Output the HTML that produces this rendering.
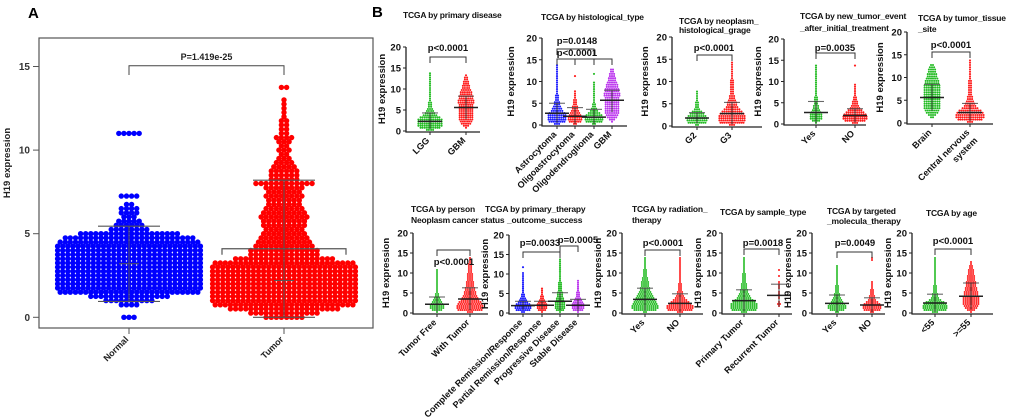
<!DOCTYPE html>
<html><head><meta charset="utf-8"><style>
html,body{margin:0;padding:0;background:#fff;}
svg{display:block;font-family:"Liberation Sans",Arial,sans-serif;}
</style></head><body>
<svg id="fig" width="1020" height="417" viewBox="0 0 1020 417"></svg>
<script>
// ---------- Panel A data (bin width 0.25 units, counts per bin starting at 0) ----------
const aCats = ['Normal','Tumor'];
const aNormalCounts = [3,0,0,4,10,16,28,29,29,29,29,29,29,29,29,29,29,29,28,26,20,8,6,5,3,4,4,2,0,4,0,0,0,0,0,0,0,0,0,0,0,0,0,0,5];
const aTumorCounts = [8,14,22,28,29,29,29,29,29,29,29,29,29,28,20,14,14,12,11,10,9,8,9,9,10,9,8,7,7,8,7,8,12,6,6,6,5,4,3,2,3,2,3,4,2,2,2,2,1,1,1,1,1,0,0,2];
const aMeans = [3.2, 2.2];
const aUpper = [5.45, 8.2];
const aLower = [0.95, 0.0];
const aSD = [null, 4.1];
const aPText = 'P=1.419e-25';

// ---------- Panel B data (bin width 0.5 units, counts per bin starting at 0) ----------
const b1Cats = ['LGG','GBM'];
const b1Counts = [[4,10,12,12,12,12,10,7,5,4,3,2,2,2,1,1,1,1,1,1,1,1,1,1,1,1,1,1],[0,1,3,5,6,7,7,7,7,7,7,7,7,8,8,7,7,6,6,5,4,4,3,3,2,2,1]];
const b1Means = [2.3,5.6]; const b1Upper = [4.3,8.3]; const b1Lower = [0.5,2.8];

const b2Cats = ['Astrocytoma','Oligoastrocytoma','Oligodendroglioma','GBM'];
const b2Counts = [[3,8,9,9,9,8,6,5,4,3,3,2,2,2,1,1,1,1,1,1,1,1,1,1,1,1,1,1],[2,6,7,7,6,5,4,3,3,2,2,2,1,1,1,1,0,0,0,0,0,0,1],[2,8,9,9,8,6,4,3,2,2,1,1,1,1,1,1,1,1,1,1,0,0,0,1],[0,1,3,5,6,7,7,7,7,7,7,7,7,8,8,7,7,6,6,5,4,4,3,3,2,2]];
const b2Means = [2.7,2.0,1.8,5.7]; const b2Upper = [5.0,4.0,3.6,8.0]; const b2Lower = [0.5,0.3,0.3,3.0];

const b3Cats = ['G2','G3'];
const b3Counts = [[2,9,10,10,9,7,5,3,2,2,2,1,1,1,1,1],[3,12,13,13,13,12,10,8,6,5,5,4,3,3,2,2,2,2,2,2,2,1,1,1,1,1,1,1,1]];
const b3Means = [1.8,2.8]; const b3Upper = [3.0,5.3]; const b3Lower = [0.6,0.4];

const b4Cats = ['Yes','NO'];
const b4Counts = [[1,4,6,6,6,5,4,3,3,2,2,2,2,1,1,1,1,1,1,1,1,1,1,1,1,1,1,1],[3,10,12,12,11,9,7,5,4,3,3,2,2,1,1,1,1,1,1,0,0,0,0,0,0,0,0,1]];
const b4Means = [2.7,2.0]; const b4Upper = [5.3,3.6]; const b4Lower = [0.2,0.4];

const b5Cats = ['Brain','Central nervous|system'];
const b5Counts = [[0,0,2,4,6,7,8,8,8,8,8,8,8,8,8,8,8,7,7,6,5,5,4,4,3,2],[3,12,14,14,13,11,8,6,5,4,3,3,2,2,2,2,2,2,2,1,1,1,1,1,1,1,1,1]];
const b5Means = [5.6,2.3]; const b5Upper = [8.5,4.3]; const b5Lower = [2.7,0.4];

const b6Cats = ['Tumor Free','With Tumor'];
const b6Counts = [[1,5,7,7,6,5,4,3,2,2,1,1,1,1,1,1,1,1,1,1,1,1],[3,12,13,13,12,11,9,8,7,6,6,5,5,4,4,4,3,3,3,3,2,2,2,2,2,1,1,1]];
const b6Means = [2.2,3.5]; const b6Upper = [4.0,6.3]; const b6Lower = [0.4,0.7];

const b7Cats = ['Complete Remission/Response','Partial Remission/Response','Progressive Disease','Stable Disease'];
const b7Counts = [[2,7,8,8,7,5,4,3,2,2,1,1,1,1,1,1,1,1,1,1,1,0,0,1],[1,4,5,5,5,4,3,2,2,1,1,1,1],[1,4,5,5,5,5,4,4,3,3,3,2,2,2,2,2,1,1,1,1,1,1,1,1,1,1,1,1],[1,5,6,6,6,5,4,3,2,2,2,1,1,1,1,1,1]];
const b7Means = [1.9,2.0,3.0,2.0]; const b7Upper = [3.0,3.0,5.2,3.5]; const b7Lower = [0.8,1.0,0.8,0.5];

const b8Cats = ['Yes','NO'];
const b8Counts = [[2,11,13,13,12,11,10,9,8,7,6,5,5,4,4,4,3,3,2,2,2,2,1,1,1,1,1,1],[3,12,13,13,11,9,7,5,4,3,3,2,2,2,2,1,1,1,1,1,1,1,1,1,1,1,1,1]];
const b8Means = [3.4,2.4]; const b8Upper = [6.2,4.8]; const b8Lower = [0.6,0.2];

const b9Cats = ['Primary Tumor','Recurrent Tumor'];
const b9Counts = [[3,12,13,13,13,11,9,7,6,5,4,4,3,3,3,2,2,2,2,2,1,1,1,1,1,1,1,1],[0,0,0,1,2,1,0,1,1,1,1,0,1,1,1,1,0,0,1,0,0,1]];
const b9Means = [3.1,4.4]; const b9Upper = [5.8,7.2]; const b9Lower = [0.4,1.6];

const b10Cats = ['Yes','NO'];
const b10Counts = [[2,7,9,9,8,6,5,4,3,3,2,2,2,2,1,1,1,1,1,1,1,1,1,1],[2,8,9,9,8,6,4,3,3,2,2,2,1,1,1,1,0,0,0,0,0,0,0,0,0,0,1,1]];
const b10Means = [2.4,2.0]; const b10Upper = [4.5,3.8]; const b10Lower = [0.3,0.2];

const b11Cats = ['<55','>=55'];
const b11Counts = [[3,11,12,12,11,9,6,4,3,3,2,2,2,2,1,1,1,1,1,1,1,1,1,1,1,1,1,1],[1,4,6,7,8,8,8,8,7,7,7,6,6,5,5,5,4,4,4,3,3,3,2,2,1,1]];
const b11Means = [2.5,4.2]; const b11Upper = [4.7,7.5]; const b11Lower = [0.3,0.9];

const yTicksA = [0,5,10,15];
const yTicksB = [0,5,10,15,20];

// ---------- drawing helpers ----------
const NS='http://www.w3.org/2000/svg';
const svg=document.getElementById('fig');
function mk(tag, attrs, parent){
  const e=document.createElementNS(NS,tag);
  for(const k in attrs) e.setAttribute(k,attrs[k]);
  (parent||svg).appendChild(e);
  return e;
}
function txt(s, attrs, parent){const t=mk('text',attrs,parent);t.textContent=s;return t;}

// ---------- Panel A ----------
(function(){
  const g=mk('g',{});
  
  
  const L=39,T=38,R=373,B=328;
  const y=v=>317.3-v*16.72;
  const cx=[129,284];
  const lbl=txt('A',{x:28,y:18,'font-size':15,'font-weight':'bold',fill:'#000'},g);
  
  
  const box=mk('rect',{x:L,y:T,width:R-L,height:B-T,fill:'none',stroke:'#555','stroke-width':1.2},g);
  
  
  yTicksA.forEach(v=>{
    mk('line',{x1:33,x2:L,y1:y(v),y2:y(v),stroke:'#555','stroke-width':1},g);
    const t=txt(String(v),{x:30,y:y(v)+3.5,'text-anchor':'end','font-size':10,'font-weight':'bold',fill:'#333'},g);
    
    
  });
  const yt=txt('H19 expression',{x:0,y:0,'font-size':9.5,'font-weight':'bold',fill:'#222','text-anchor':'middle',transform:'translate(10,163) rotate(-90)'},g);
  
  
  const groups=[aNormalCounts,aTumorCounts], cols=['#0000ff','#ff0000'];
  groups.forEach((counts,gi)=>{
    const dg=mk('g',{fill:cols[gi]},g);
    
    
    counts.forEach((n,bi)=>{
      const yy=y(bi*0.25);
      for(let i=0;i<n;i++){
        const x=cx[gi]+(i-(n-1)/2)*5.1;
        mk('circle',{cx:x.toFixed(1),cy:yy.toFixed(1),r:2.7},dg);
      }
    });
    mk('line',{x1:cx[gi],x2:cx[gi],y1:y(aLower[gi]),y2:y(aUpper[gi]),stroke:'#555','stroke-width':1},g);
    mk('line',{x1:cx[gi]-31,x2:cx[gi]+31,y1:y(aUpper[gi]),y2:y(aUpper[gi]),stroke:'#555','stroke-width':1.2},g);
    mk('line',{x1:cx[gi]-31,x2:cx[gi]+31,y1:y(aLower[gi]),y2:y(aLower[gi]),stroke:'#555','stroke-width':1.2},g);
    mk('line',{x1:cx[gi]-10,x2:cx[gi]+10,y1:y(aMeans[gi]),y2:y(aMeans[gi]),stroke:'#555','stroke-width':1},g);
    if(aSD[gi]!==null){
      mk('path',{d:`M${cx[gi]-62},${y(aSD[gi])+6}V${y(aSD[gi])}H${cx[gi]+62}V${y(aSD[gi])+6}`,fill:'none',stroke:'#555','stroke-width':1.2},g);
    }
    mk('line',{x1:cx[gi],x2:cx[gi],y1:B,y2:B+6,stroke:'#555','stroke-width':1},g);
    const xl=txt(aCats[gi],{x:cx[gi],y:B+12,'text-anchor':'end','font-size':9,'font-weight':'bold',fill:'#222',transform:`rotate(-45 ${cx[gi]} ${B+12})`},g);
    
    
  });
  mk('path',{d:`M${cx[0]},75V65.7H${cx[1]}V75`,fill:'none',stroke:'#444','stroke-width':1},g);
  const pt=txt(aPText,{x:(cx[0]+cx[1])/2,y:60,'text-anchor':'middle','font-size':9,'font-weight':'bold',fill:'#222'},g);
  
  
})();

// ---------- Panel B ----------
const bl=txt('B',{x:372,y:17,'font-size':15,'font-weight':'bold',fill:'#000'});



const G='#22bb22',Rd='#ff1a1a',Bl='#1a1aff',Pu='#bb33ee';
const panels=[
 {name:'primary-disease',cats:b1Cats,counts:b1Counts,means:b1Means,up:b1Upper,lo:b1Lower,cols:[G,Rd],ax:406,y20:47,y0:131,xr:480,cx:[430,466],ytx:385,title:['TCGA by primary disease'],tx:403,ty:[18],
  br:[{a:0,b:1,y:57,t:'p<0.0001',tx:448,ty:51}]},
 {name:'histological-type',cats:b2Cats,counts:b2Counts,means:b2Means,up:b2Upper,lo:b2Lower,cols:[Bl,Rd,G,Pu],ax:542,y20:38,y0:125,xr:627,cx:[557,575,594,612],ytx:514,title:['TCGA by histological_type'],tx:541,ty:[20],
  br:[{a:0,b:2,y:49,t:'p=0.0148',tx:577,ty:44},{a:0,b:3,y:59,t:'p<0.0001',tx:577,ty:56,mid:[1,2]}]},
 {name:'histological-grade',cats:b3Cats,counts:b3Counts,means:b3Means,up:b3Upper,lo:b3Lower,cols:[G,Rd],ax:672,y20:37,y0:126,xr:762,cx:[697,732],ytx:648,title:['TCGA by neoplasm_','histological_grage'],tx:679,ty:[24,33],
  br:[{a:0,b:1,y:55,t:'p<0.0001',tx:714,ty:51}]},
 {name:'new-tumor-event',cats:b4Cats,counts:b4Counts,means:b4Means,up:b4Upper,lo:b4Lower,cols:[G,Rd],ax:784,y20:39,y0:124,xr:866,cx:[816,855],ytx:761,title:['TCGA by new_tumor_event','_after_initial_treatment'],tx:800,ty:[19,31],
  br:[{a:0,b:1,y:53,t:'p=0.0035',tx:835,ty:51}]},
 {name:'tumor-tissue-site',cats:b5Cats,counts:b5Counts,means:b5Means,up:b5Upper,lo:b5Lower,cols:[G,Rd],ax:907,y20:32,y0:123,xr:993,cx:[932,970],ytx:883,title:['TCGA by tumor_tissue','_site'],tx:918,ty:[21,32],
  br:[{a:0,b:1,y:52,t:'p<0.0001',tx:951,ty:48}]},
 {name:'person-neoplasm-status',cats:b6Cats,counts:b6Counts,means:b6Means,up:b6Upper,lo:b6Lower,cols:[G,Rd],ax:413,y20:233,y0:313,xr:488,cx:[437,470],ytx:389,title:['TCGA by person','Neoplasm cancer status'],tx:411,ty:[212,223],
  br:[{a:0,b:1,y:250,t:'p<0.0001',tx:454,ty:265}]},
 {name:'primary-therapy-outcome',cats:b7Cats,counts:b7Counts,means:b7Means,up:b7Upper,lo:b7Lower,cols:[Bl,Rd,G,Pu],ax:509,y20:235,y0:313,xr:590,cx:[523,542,560,578],ytx:488,title:['TCGA by primary_therapy','_outcome_success'],tx:[485,507],ty:[212,223],
  br:[{a:0,b:2,y:252,t:'p=0.0033',tx:540,ty:246},{a:2,b:3,y:246,t:'p=0.0005',tx:578,ty:243}]},
 {name:'radiation-therapy',cats:b8Cats,counts:b8Counts,means:b8Means,up:b8Upper,lo:b8Lower,cols:[G,Rd],ax:622,y20:233,y0:313,xr:703,cx:[645,680],ytx:601,title:['TCGA by radiation_','therapy'],tx:632,ty:[212,223],
  br:[{a:0,b:1,y:250,t:'p<0.0001',tx:663,ty:246}]},
 {name:'sample-type',cats:b9Cats,counts:b9Counts,means:b9Means,up:b9Upper,lo:b9Lower,cols:[G,Rd],ax:722,y20:233,y0:313,xr:792,cx:[744,779],ytx:701,title:['TCGA by sample_type'],tx:720,ty:[215],
  br:[{a:0,b:1,y:249,t:'p=0.0018',tx:763,ty:246}]},
 {name:'targeted-molecular-therapy',cats:b10Cats,counts:b10Counts,means:b10Means,up:b10Upper,lo:b10Lower,cols:[G,Rd],ax:812,y20:233,y0:313,xr:885,cx:[837,872],ytx:791,title:['TCGA by targeted','_molecula_therapy'],tx:827,ty:[214,224],
  br:[{a:0,b:1,y:252,t:'p=0.0049',tx:855,ty:246}]},
 {name:'age',cats:b11Cats,counts:b11Counts,means:b11Means,up:b11Upper,lo:b11Lower,cols:[G,Rd],ax:912,y20:233,y0:313,xr:993,cx:[935,971],ytx:891,title:['TCGA by age'],tx:926,ty:[216],
  br:[{a:0,b:1,y:249,t:'p<0.0001',tx:953,ty:244}]}
];

panels.forEach(p=>{
  const g=mk('g',{});
  
  
  const y=v=>p.y0+(p.y20-p.y0)*v/20;
  p.title.forEach((line,i)=>{
    const x=Array.isArray(p.tx)?p.tx[i]:p.tx;
    const t=txt(line,{x:x,y:p.ty[i],'font-size':8.5,'font-weight':'bold',fill:'#111','letter-spacing':'-0.2'},g);
    
    
  });
  mk('path',{d:`M${p.ax},${p.y20}V${p.y0+1}H${p.xr}`,fill:'none',stroke:'#222','stroke-width':1.3},g);
  yTicksB.forEach(v=>{
    mk('line',{x1:p.ax-3,x2:p.ax,y1:y(v),y2:y(v),stroke:'#222','stroke-width':1},g);
    const t=txt(String(v),{x:p.ax-5,y:y(v)+3.5,'text-anchor':'end','font-size':9.5,'font-weight':'bold',fill:'#111'},g);
    
    
  });
  const mid=(p.y20+p.y0)/2;
  const yt=txt('H19 expression',{x:0,y:0,'font-size':9.5,'font-weight':'bold',fill:'#111','text-anchor':'middle',transform:`translate(${p.ytx},${mid}) rotate(-90)`},g);
  
  
  p.counts.forEach((counts,gi)=>{
    const dg=mk('g',{fill:p.cols[gi]},g);
    
    
    const c=p.cx[gi];
    counts.forEach((n,bi)=>{
      const yy=y(bi*0.5+0.25);
      for(let i=0;i<n;i++){
        const x=c+(i-(n-1)/2)*2.1;
        mk('circle',{cx:x.toFixed(1),cy:yy.toFixed(1),r:1.05},dg);
      }
    });
    mk('line',{x1:c,x2:c,y1:y(p.lo[gi]),y2:y(p.up[gi]),stroke:'#333','stroke-width':0.9},g);
    mk('line',{x1:c-8,x2:c+8,y1:y(p.up[gi]),y2:y(p.up[gi]),stroke:'#444','stroke-width':1.1,'stroke-opacity':0.8},g);
    mk('line',{x1:c-12,x2:c+12,y1:y(p.means[gi]),y2:y(p.means[gi]),stroke:'#222','stroke-width':1.5},g);
    mk('line',{x1:c,x2:c,y1:p.y0+1,y2:p.y0+4,stroke:'#222','stroke-width':1},g);
    const lines=p.cats[gi].split('|');
    lines.forEach((ln,li)=>{
      const lx=c+li*8, ly=p.y0+10+li*8;
      const t=txt(ln,{x:lx,y:ly,'text-anchor':'end','font-size':9,'font-weight':'bold',fill:'#111',transform:`rotate(-45 ${lx} ${ly})`},g);
      
      
    });
  });
  p.br.forEach(b=>{
    const xa=p.cx[b.a], xb=p.cx[b.b];
    let d=`M${xa},${b.y+6}V${b.y}H${xb}V${b.y+6}`;
    if(b.mid) b.mid.forEach(m=>{d+=`M${p.cx[m]},${b.y}V${b.y+6}`;});
    mk('path',{d:d,fill:'none',stroke:'#333','stroke-width':1},g);
    const t=txt(b.t,{x:b.tx,y:b.ty,'text-anchor':'middle','font-size':9.5,'font-weight':'bold',fill:'#111'},g);
    
    
  });
});
</script>
</body></html>
